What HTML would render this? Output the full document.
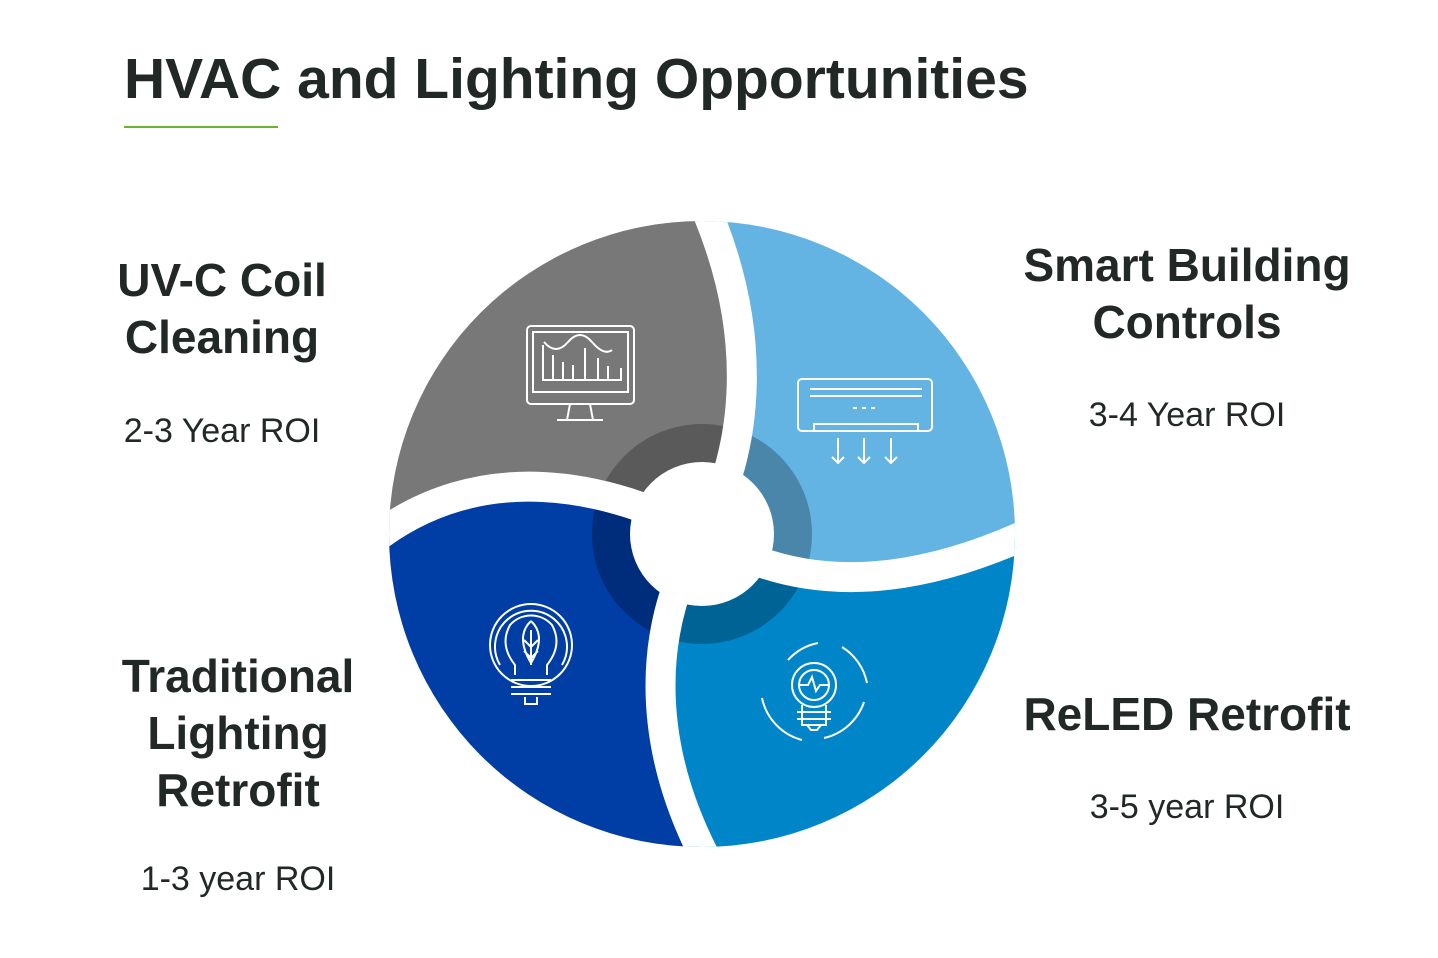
<!DOCTYPE html>
<html><head><style>
body{margin:0;width:1438px;height:958px;background:#fff;font-family:"Liberation Sans",sans-serif;color:#222826;position:relative;overflow:hidden}
.t{position:absolute;white-space:nowrap;text-align:center}
.h{font-weight:bold;font-size:46px;line-height:57px}
.r{font-size:34px}
</style></head><body>
<div class="t" style="left:124px;top:46px;font-size:57px;font-weight:bold;text-align:left">HVAC and Lighting Opportunities</div>
<div style="position:absolute;left:124px;top:126px;width:154px;height:2px;background:#6ab42d"></div>
<div class="t h" style="left:72px;width:300px;top:252px">UV-C Coil<br>Cleaning</div>
<div class="t r" style="left:72px;width:300px;top:412px">2-3 Year ROI</div>
<div class="t h" style="left:1000px;width:374px;top:237px">Smart Building<br>Controls</div>
<div class="t r" style="left:1000px;width:374px;top:396px">3-4 Year ROI</div>
<div class="t h" style="left:88px;width:300px;top:648px">Traditional<br>Lighting<br>Retrofit</div>
<div class="t r" style="left:88px;width:300px;top:860px">1-3 year ROI</div>
<div class="t h" style="left:1000px;width:374px;top:686px">ReLED Retrofit</div>
<div class="t r" style="left:1000px;width:374px;top:788px">3-5 year ROI</div>
<svg width="1438" height="958" style="position:absolute;left:0;top:0">
<defs><clipPath id="c"><circle cx="702" cy="534" r="313"/></clipPath></defs>
<g clip-path="url(#c)">
<path fill="#787878" d="M702,534 C610,485 480,455 370,542 L370,200 L702,200 C760,330 750,450 702,534Z"/>
<path fill="#63b3e3" d="M702,534 C750,450 760,330 702,200 L1040,200 L1040,528 C900,595 790,590 702,534Z"/>
<path fill="#0085c9" d="M702,534 C790,590 900,595 1040,528 L1040,870 L712,870 C640,740 650,620 702,534Z"/>
<path fill="#003da5" d="M702,534 C650,620 640,740 712,870 L370,870 L370,542 C480,455 610,485 702,534Z"/>
<circle cx="702" cy="534" r="110" fill="rgba(0,0,0,0.25)"/>
<g fill="none" stroke="#fff" stroke-width="30">
<path d="M702,534 C750,450 760,330 702,200"/>
<path d="M702,534 C790,590 900,595 1040,528"/>
<path d="M702,534 C650,620 640,740 712,870"/>
<path d="M702,534 C610,485 480,455 370,542"/>
</g>
</g>
<circle cx="702" cy="534" r="72" fill="#fff"/>
<g fill="none" stroke="#fff" stroke-width="2">
<rect x="527" y="326" width="107" height="78" rx="4"/><rect x="533" y="332" width="95" height="60"/>
<path d="M544,342 q12,14 24,0 t24,0 t20,8 M543,345v35h78v-12 M553,355v25 M563,362v18 M573,365v15 M585,348v32 M598,358v22 M608,366v14 M570,404l-3,16 M590,404l3,16 M557,420h46"/>
<rect x="798" y="379" width="134" height="52" rx="4"/>
<path d="M810,389h112 M810,396h112 M853,408h4 M862,408h4 M871,408h4 M814,430v-6h104v6 M838,438v25 M832,457l6,6 6,-6 M864,438v25 M858,457l6,6 6,-6 M891,438v25 M885,457l6,6 6,-6"/>
<circle cx="531" cy="645" r="41"/><path d="M500,665 a36,36 0 1 1 62,0 M515,675v-10 q-16,-20 -5,-40 a28,28 0 0 1 42,0 q11,20 -5,40 v10 M531,621 q16,15 0,42 q-16,-27 0,-42 M531,630v35 M524,640l7,7 7,-7 M524,651l7,7 7,-7 M511,680h40 M511,687h40 M511,694h40 M525,697v7h12v-7"/>
<circle cx="814" cy="685" r="22"/><circle cx="814" cy="685" r="15"/><path d="M800,685h8l4,-8 4,14 4,-6h8 M802,705v20h24v-20 M797,712h34 M797,719h34 M807,725l4,5h6l4,-5 M788,660 a55,55 0 0 1 30,-17 M842,647 a55,55 0 0 1 25,36 M864,702 a55,55 0 0 1 -40,36 M802,740 a55,55 0 0 1 -40,-42"/>
</g>
</svg>
</body></html>
